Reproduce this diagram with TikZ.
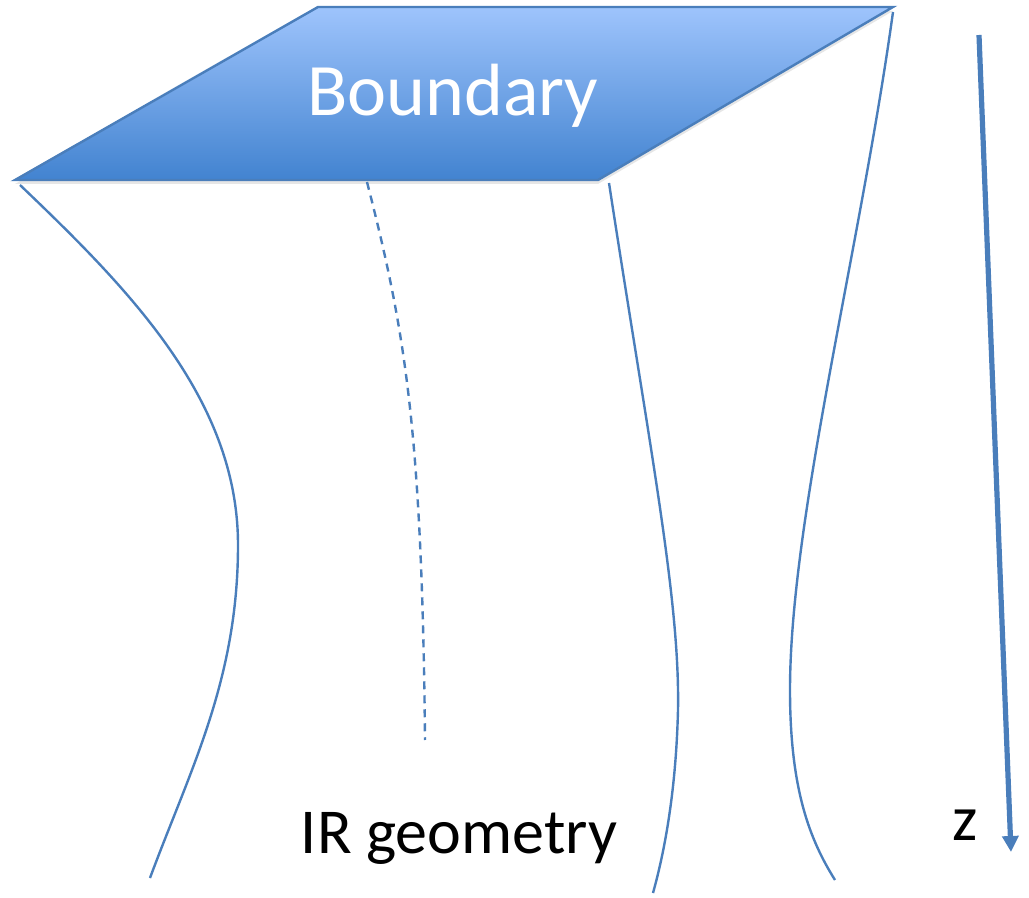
\documentclass[tikz,border=0pt]{standalone}
\usepackage{fontspec}
\setmainfont{Carlito}
\usetikzlibrary{arrows.meta,shadows}

\definecolor{lineblue}{HTML}{4A7EBB}
\definecolor{sheettop}{HTML}{9EC4FC}
\definecolor{sheetbot}{HTML}{4283D0}

\begin{document}
\begin{tikzpicture}[
			x=0.5pt, y=-0.5pt,
			sheet/.style={draw=lineblue, line width=1.2pt, top color=sheettop, bottom color=sheetbot,
					drop shadow={shadow xshift=0pt, shadow yshift=-2pt, opacity=0.2}},
			geo/.style={draw=lineblue, line width=1.2pt},
			probe/.style={geo, dash pattern=on 4pt off 3pt},
			zaxis/.style={draw=lineblue, line width=2.6pt, -{Triangle[width=8pt,length=8pt]}},
			lbl/.style={font=\fontsize{32}{36}\selectfont, inner sep=0pt, anchor=base}
		]
		\useasboundingbox (0,0) rectangle (1029,898);

		% boundary sheet
		\coordinate (tl) at (318,7);
		\coordinate (tr) at (893,7);
		\coordinate (br) at (598,180);
		\coordinate (bl) at (15,180);
		\path[sheet] (tl) -- (tr) -- (br) -- (bl) -- cycle;
		\node[font=\fontsize{37}{40}\selectfont, text=white, inner sep=0pt, anchor=base] (bnd) at (453,116) {Boundary};

		% geodesics into the bulk
		\coordinate (g1a) at (20,185);
		\coordinate (g1b) at (150,878);
		\draw[geo] (g1a) .. controls (130,290) and (238,400) .. (238,545)
			.. controls (238,680) and (190,770) .. (g1b);

		\coordinate (dsa) at (367,182);
		\coordinate (dsb) at (425,740);
		\draw[probe] (dsa) .. controls (405,330) and (422,430) .. (dsb);

		\coordinate (g2a) at (609,183);
		\coordinate (g2b) at (653,893);
		\draw[geo] (g2a) .. controls (650,450) and (680,600) .. (678,710)
			.. controls (676,790) and (665,850) .. (g2b);

		\coordinate (g3a) at (893,12);
		\coordinate (g3b) at (835,880);
		\draw[geo] (g3a) .. controls (860,250) and (790,520) .. (790,690)
			.. controls (790,790) and (810,840) .. (g3b);

		% radial direction
		\coordinate (za) at (979,35);
		\coordinate (zb) at (1011,852);
		\draw[zaxis] (za) -- (zb);
		\node[lbl] (zlab) at (965,840) {z};

		\node[lbl] (ir) at (459,853) {IR geometry};
	\end{tikzpicture}
\end{document}
